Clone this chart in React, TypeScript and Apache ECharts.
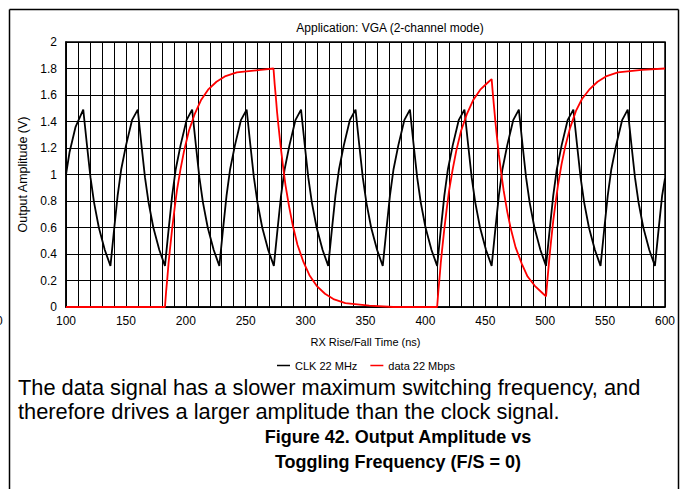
import React, { useEffect, useRef } from 'react';
import * as echarts from 'echarts';

const seriesNames = ['CLK 22 MHz', 'data 22 Mbps'];
const xRange = [100, 600];
const yRange = [0, 2];
const titleText = 'Application: VGA (2-channel mode)';
const xName = 'RX Rise/Fall Time (ns)';
const yName = 'Output Amplitude (V)';
const noteLines = [
  'The data signal has a slower maximum switching frequency, and',
  'therefore drives a larger amplitude than the clock signal.',
];
const captionLines = ['Figure 42. Output Amplitude vs', 'Toggling Frequency (F/S = 0)'];

// CLK 22 MHz (ns, V)
const clkPoints: [number, number][] = [
  [100, 1.0], [103, 1.17], [108, 1.36], [114.4, 1.49],
  [117.4, 1.23], [120.4, 0.98], [123.4, 0.79], [127.4, 0.6], [132.4, 0.43], [137.1, 0.31],
  [140.1, 0.58], [143.1, 0.84], [146.1, 1.04], [150.1, 1.22], [155.1, 1.41], [159.9, 1.49],
  [162.9, 1.23], [165.9, 0.98], [168.9, 0.79], [172.9, 0.6], [177.9, 0.43], [182.6, 0.31],
  [185.6, 0.58], [188.6, 0.84], [191.6, 1.04], [195.6, 1.22], [200.6, 1.41], [205.3, 1.49],
  [208.3, 1.23], [211.3, 0.98], [214.3, 0.79], [218.3, 0.6], [223.3, 0.43], [228.0, 0.31],
  [231.0, 0.58], [234.0, 0.84], [237.0, 1.04], [241.0, 1.22], [246.0, 1.41], [250.8, 1.49],
  [253.8, 1.23], [256.8, 0.98], [259.8, 0.79], [263.8, 0.6], [268.8, 0.43], [273.5, 0.31],
  [276.5, 0.58], [279.5, 0.84], [282.5, 1.04], [286.5, 1.22], [291.5, 1.41], [296.2, 1.49],
  [299.2, 1.23], [302.2, 0.98], [305.2, 0.79], [309.2, 0.6], [314.2, 0.43], [318.9, 0.31],
  [321.9, 0.58], [324.9, 0.84], [327.9, 1.04], [331.9, 1.22], [336.9, 1.41], [341.7, 1.49],
  [344.7, 1.23], [347.7, 0.98], [350.7, 0.79], [354.7, 0.6], [359.7, 0.43], [364.4, 0.31],
  [367.4, 0.58], [370.4, 0.84], [373.4, 1.04], [377.4, 1.22], [382.4, 1.41], [387.1, 1.49],
  [390.1, 1.23], [393.1, 0.98], [396.1, 0.79], [400.1, 0.6], [405.1, 0.43], [409.8, 0.31],
  [412.8, 0.58], [415.8, 0.84], [418.8, 1.04], [422.8, 1.22], [427.8, 1.41], [432.6, 1.49],
  [435.6, 1.23], [438.6, 0.98], [441.6, 0.79], [445.6, 0.6], [450.6, 0.43], [455.3, 0.31],
  [458.3, 0.58], [461.3, 0.84], [464.3, 1.04], [468.3, 1.22], [473.3, 1.41], [478.0, 1.49],
  [481.0, 1.23], [484.0, 0.98], [487.0, 0.79], [491.0, 0.6], [496.0, 0.43], [500.7, 0.31],
  [503.7, 0.58], [506.7, 0.84], [509.7, 1.04], [513.7, 1.22], [518.7, 1.41], [523.5, 1.49],
  [526.5, 1.23], [529.5, 0.98], [532.5, 0.79], [536.5, 0.6], [541.5, 0.43], [546.2, 0.31],
  [549.2, 0.58], [552.2, 0.84], [555.2, 1.04], [559.2, 1.22], [564.2, 1.41], [568.9, 1.49],
  [571.9, 1.23], [574.9, 0.98], [577.9, 0.79], [581.9, 0.6], [586.9, 0.43], [591.6, 0.31],
  [594.6, 0.58], [597.6, 0.84], [600, 0.97],
];

// data 22 Mbps (ns, V)
const dataPoints: [number, number][] = [
  [100, 0], [182.6, 0], [183.6, 0.12], [184.6, 0.22], [185.6, 0.33], [186.6, 0.42],
  [188.6, 0.59], [190.6, 0.74], [192.6, 0.88], [195.6, 1.04], [198.6, 1.18], [202.6, 1.33],
  [207.6, 1.46], [212.6, 1.56], [218.6, 1.64], [225.6, 1.7], [232.6, 1.74], [242.6, 1.77],
  [252.6, 1.78], [262.6, 1.79], [273.2, 1.8],
  [274.2, 1.68], [275.2, 1.58], [276.2, 1.47], [277.2, 1.38], [279.2, 1.21], [281.2, 1.06],
  [283.2, 0.92], [286.2, 0.76], [289.2, 0.62], [293.2, 0.47], [298.2, 0.34], [303.2, 0.24],
  [309.2, 0.16], [316.2, 0.1], [323.2, 0.06], [333.2, 0.03], [343.2, 0.02], [353.2, 0.01],
  [373, 0], [409.8, 0],
  [410.8, 0.12], [411.8, 0.22], [412.8, 0.33], [413.8, 0.42], [415.8, 0.59], [417.8, 0.74],
  [419.8, 0.88], [422.8, 1.04], [425.8, 1.18], [429.8, 1.33], [434.8, 1.46], [439.8, 1.56],
  [445.8, 1.64], [452.8, 1.7], [455.3, 1.72],
  [456.3, 1.61], [457.3, 1.51], [458.3, 1.41], [459.3, 1.32], [461.3, 1.15], [463.3, 1.01],
  [465.3, 0.88], [468.3, 0.72], [471.3, 0.59], [475.3, 0.45], [480.3, 0.33], [485.3, 0.23],
  [491.3, 0.16], [498.3, 0.1], [500.7, 0.08],
  [501.7, 0.19], [502.7, 0.29], [503.7, 0.39], [504.7, 0.48], [506.7, 0.65], [508.7, 0.79],
  [510.7, 0.92], [513.7, 1.08], [516.7, 1.21], [520.7, 1.35], [525.7, 1.48], [530.7, 1.57],
  [536.7, 1.64], [543.7, 1.7], [550.7, 1.74], [560.7, 1.77], [570.7, 1.78], [580.7, 1.79],
  [600, 1.8],
];

const FONT = '"Liberation Sans", Arial, Helvetica, sans-serif';

export default function App() {
  const ref = useRef<HTMLDivElement>(null);
  useEffect(() => {
    if (!ref.current) return;
    const chart = echarts.init(ref.current, null, { renderer: 'svg' });
    chart.setOption({
      animation: false,
      backgroundColor: '#fff',
      textStyle: { fontFamily: FONT, color: '#000' },
      title: {
        text: titleText,
        left: 385,
        top: 17,
        textAlign: 'center',
        textStyle: { fontSize: 12, fontWeight: 'normal', color: '#000', fontFamily: FONT },
      },
      legend: {
        data: seriesNames,
        left: 272,
        top: 355,
        icon: 'rect',
        itemWidth: 13,
        itemHeight: 1.5,
        itemGap: 13,
        textStyle: { fontSize: 11, color: '#000', fontFamily: FONT },
      },
      grid: {
        left: 66,
        top: 42,
        width: 599,
        height: 265,
        show: true,
        borderColor: '#000',
        borderWidth: 1.5,
      },
      xAxis: {
        type: 'value',
        min: xRange[0],
        max: xRange[1],
        interval: 50,
        name: xName,
        nameLocation: 'middle',
        nameGap: 29,
        nameTextStyle: { fontSize: 11, color: '#000', fontFamily: FONT },
        axisLine: { show: true, onZero: false, lineStyle: { color: '#000', width: 1.5 } },
        axisTick: { show: false },
        axisLabel: { color: '#000', fontSize: 12, margin: 8, fontFamily: FONT },
        splitLine: { show: true, lineStyle: { color: '#000', width: 1 } },
        minorTick: { show: false, splitNumber: 5 },
        minorSplitLine: { show: true, lineStyle: { color: '#000', width: 1 } },
      },
      yAxis: {
        type: 'value',
        min: yRange[0],
        max: yRange[1],
        interval: 0.2,
        name: yName,
        nameLocation: 'middle',
        nameGap: 36,
        nameTextStyle: { fontSize: 12.5, color: '#000', fontFamily: FONT },
        axisLine: { show: true, lineStyle: { color: '#000', width: 1.5 } },
        axisTick: { show: false },
        axisLabel: { color: '#000', fontSize: 12, margin: 9, fontFamily: FONT },
        splitLine: { show: true, lineStyle: { color: '#000', width: 1 } },
      },
      series: [
        {
          name: seriesNames[0],
          type: 'line',
          data: clkPoints,
          symbol: 'none',
          color: '#000',
          lineStyle: { color: '#000', width: 1.8 },
          clip: false,
        },
        {
          name: seriesNames[1],
          type: 'line',
          data: dataPoints,
          symbol: 'none',
          color: '#ff0000',
          lineStyle: { color: '#ff0000', width: 1.8 },
          clip: false,
        },
      ],
      graphic: [
        { type: 'line', shape: { x1: 9.5, y1: 9.5, x2: 678.5, y2: 9.5 }, style: { stroke: '#000', lineWidth: 1.5 } },
        { type: 'line', shape: { x1: 9.5, y1: 9.5, x2: 9.5, y2: 489 }, style: { stroke: '#000', lineWidth: 1.5 } },
        { type: 'line', shape: { x1: 678.5, y1: 9.5, x2: 678.5, y2: 489 }, style: { stroke: '#000', lineWidth: 1.5 } },
        { type: 'text', x: -4, y: 321, style: { text: '0', fontSize: 12, fontFamily: FONT, fill: '#000', verticalAlign: 'middle' } },
        { type: 'text', x: 18, y: 387, style: { text: noteLines[0], fontSize: 21.8, fontFamily: FONT, fill: '#000', verticalAlign: 'middle' } },
        { type: 'text', x: 18, y: 411, style: { text: noteLines[1], fontSize: 21.8, fontFamily: FONT, fill: '#000', verticalAlign: 'middle' } },
        { type: 'text', x: 398, y: 437, style: { text: captionLines[0], fontSize: 18, fontWeight: 'bold', fontFamily: FONT, fill: '#000', align: 'center', verticalAlign: 'middle' } },
        { type: 'text', x: 398, y: 462, style: { text: captionLines[1], fontSize: 18, fontWeight: 'bold', fontFamily: FONT, fill: '#000', align: 'center', verticalAlign: 'middle' } },
      ],
    });
    return () => chart.dispose();
  }, []);
  return (
    <div
      ref={ref}
      style={{ position: 'fixed', left: 0, top: 0, width: 683, height: 489, background: '#fff' }}
    />
  );
}
